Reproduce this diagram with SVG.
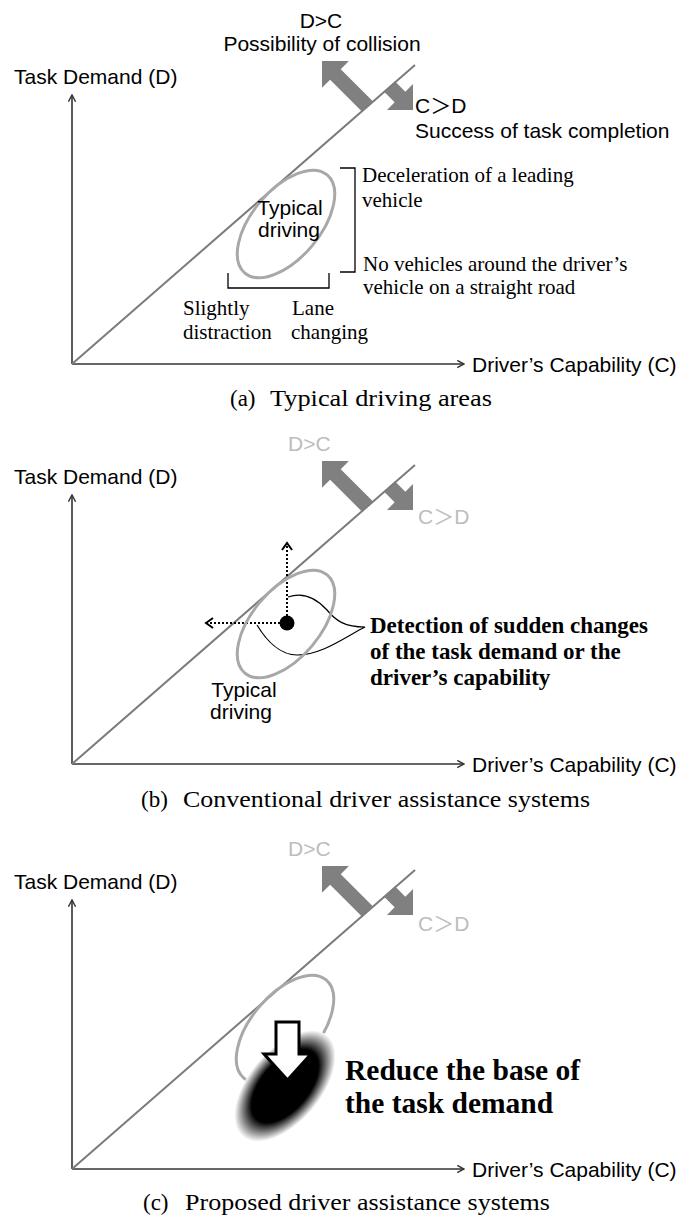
<svg xmlns="http://www.w3.org/2000/svg" width="680" height="1219" viewBox="0 0 680 1219">
<style>
  text { fill: #000; }
  .sans { font-family: "Liberation Sans", Arial, sans-serif; font-size: 21px; }
  .cjk { font-family: "Liberation Sans", "Noto Sans CJK JP", sans-serif; font-size: 21px; }
  .serif { font-family: "Liberation Serif", "Times New Roman", serif; font-size: 21px; }
  .cap { font-family: "Liberation Serif", "Times New Roman", serif; font-size: 23px; }
  .bold { font-family: "Liberation Serif", "Times New Roman", serif; font-weight: bold; }
  .faint { fill: #bdbdbd; }
  .axis { fill: none; stroke: #333; stroke-width: 1.6; marker-end: url(#chev); }
  .diag { fill: none; stroke: #7b7b7b; stroke-width: 2; }
  .zone { fill: none; stroke: #a8a8a8; stroke-width: 3; }
  .big { fill: #808080; }
  .brk { fill: none; stroke: #000; stroke-width: 1.3; }
  .dotted { fill: none; stroke: #000; stroke-width: 2; stroke-dasharray: 2 2; marker-end: url(#dchev); }
  .callout { fill: none; stroke: #000; stroke-width: 1.2; }
</style>
<defs>
  <marker id="chev" viewBox="0 0 10 10" refX="9" refY="5" markerWidth="9" markerHeight="9" markerUnits="userSpaceOnUse" orient="auto">
    <path d="M1.5,1 L9,5 L1.5,9" fill="none" stroke="#333" stroke-width="1.6"/>
  </marker>
  <marker id="dchev" viewBox="0 0 12 12" refX="10" refY="6" markerWidth="12" markerHeight="12" markerUnits="userSpaceOnUse" orient="auto">
    <path d="M3,1 L10,6 L3,11" fill="none" stroke="#000" stroke-width="2"/>
  </marker>
  <radialGradient id="fade">
    <stop offset="0.66" stop-color="#000"/>
    <stop offset="1" stop-color="#fff"/>
  </radialGradient>
  <!-- long arrow pointing up-left (D>C side), tip at origin -->
  <polygon id="arrow-dc" class="big" points="0,0 19,-19 19,-7.5 64,-7.5 64,7.5 19,7.5 19,19"/>
  <!-- short arrow pointing down-right (C>D side), tip at origin -->
  <polygon id="arrow-cd" class="big" points="0,0 18.4,-18.4 18.4,-7.5 33,-7.5 33,7.5 18.4,7.5 18.4,18.4"/>
</defs>

<rect width="680" height="1219" fill="#fff"/>

<!-- ===== (a) Typical driving areas ===== -->
<g id="panel-a">
  <g id="a-arrows">
    <use href="#arrow-dc" transform="translate(322,61) rotate(45)"/>
    <use href="#arrow-cd" transform="translate(413,110) rotate(-135)"/>
  </g>
  <g id="a-connectors">
    <path class="axis" d="M72,364 V95"/>
    <path class="axis" d="M72,364 H464"/>
    <path class="diag" d="M72,364 L415,65"/>
    <path class="brk" d="M340,168 H355 V272 H340"/>
    <path class="brk" d="M228,273 V288 H329 V273"/>
  </g>
  <g id="a-zone">
    <ellipse class="zone" cx="286" cy="224" rx="64" ry="34" transform="rotate(-50 286 224)"/>
    <text class="sans" x="290" y="215" text-anchor="middle">Typical</text>
    <text class="sans" x="289" y="237" text-anchor="middle">driving</text>
  </g>
  <g id="a-labels">
    <text class="sans" x="321" y="28" text-anchor="middle">D&gt;C</text>
    <text class="sans" x="322" y="51" text-anchor="middle">Possibility of collision</text>
    <text class="sans" x="14" y="84">Task Demand (D)</text>
    <text class="cjk" x="415" y="113">C＞D</text>
    <text class="sans" x="415" y="138">Success of task completion</text>
    <text class="sans" x="472" y="372">Driver’s Capability (C)</text>
    <text class="serif" x="362" y="182">Deceleration of a leading</text>
    <text class="serif" x="362" y="207">vehicle</text>
    <text class="serif" x="363" y="271">No vehicles around the driver’s</text>
    <text class="serif" x="363" y="294">vehicle on a straight road</text>
    <text class="serif" x="183" y="315">Slightly</text>
    <text class="serif" x="183" y="339">distraction</text>
    <text class="serif" x="292" y="315">Lane</text>
    <text class="serif" x="291" y="339">changing</text>
    <text class="cap" x="230" y="406">(a)</text>
    <text class="cap" x="270" y="406" textLength="222" lengthAdjust="spacingAndGlyphs">Typical driving areas</text>
  </g>
</g>

<!-- ===== (b) Conventional driver assistance systems ===== -->
<g id="panel-b">
  <g id="b-arrows">
    <use href="#arrow-dc" transform="translate(322,461) rotate(45)"/>
    <use href="#arrow-cd" transform="translate(413,510) rotate(-135)"/>
  </g>
  <g id="b-connectors">
    <path class="axis" d="M72,764 V495"/>
    <path class="axis" d="M72,764 H464"/>
    <path class="diag" d="M72,764 L415,465"/>
    <path class="dotted" d="M287,616 V543"/>
    <path class="dotted" d="M280,623 H206"/>
    <path class="callout" d="M288,597 C305,591 318,600 327,610 C336,621 345,627 365,627 C345,637 322,655 297,655 C280,655 266,640 257,625"/>
  </g>
  <g id="b-zone">
    <ellipse class="zone" cx="286" cy="624" rx="64" ry="34" transform="rotate(-50 286 624)"/>
    <circle cx="287" cy="623" r="7.5" fill="#000"/>
  </g>
  <g id="b-labels">
    <text class="sans faint" x="288" y="451">D&gt;C</text>
    <text class="cjk faint" x="418" y="524">C＞D</text>
    <text class="sans" x="14" y="484">Task Demand (D)</text>
    <text class="sans" x="472" y="772">Driver’s Capability (C)</text>
    <text class="sans" x="244" y="697" text-anchor="middle">Typical</text>
    <text class="sans" x="241" y="719" text-anchor="middle">driving</text>
    <text class="bold" x="370" y="633" font-size="23">Detection of sudden changes</text>
    <text class="bold" x="370" y="659" font-size="23">of the task demand or the</text>
    <text class="bold" x="370" y="685" font-size="23">driver’s capability</text>
    <text class="cap" x="141" y="807">(b)</text>
    <text class="cap" x="183" y="807" textLength="407" lengthAdjust="spacingAndGlyphs">Conventional driver assistance systems</text>
  </g>
</g>

<!-- ===== (c) Proposed driver assistance systems ===== -->
<g id="panel-c">
  <g id="c-arrows">
    <use href="#arrow-dc" transform="translate(322,866) rotate(45)"/>
    <use href="#arrow-cd" transform="translate(413,915) rotate(-135)"/>
  </g>
  <g id="c-connectors">
    <path class="axis" d="M72,1169 V900"/>
    <path class="axis" d="M72,1169 H464"/>
    <path class="diag" d="M72,1169 L415,870"/>
  </g>
  <g id="c-zone">
    <ellipse class="zone" cx="285" cy="1029" rx="64" ry="34" transform="rotate(-50 285 1029)"/>
    <ellipse cx="285" cy="1086" rx="66" ry="36" fill="url(#fade)" transform="rotate(-50 285 1086)"/>
    <polygon points="276,1022 299,1022 299,1054 311,1054 287.5,1080 264,1054 276,1054" fill="#fff" stroke="#000" stroke-width="3" stroke-linejoin="miter"/>
  </g>
  <g id="c-labels">
    <text class="sans faint" x="288" y="856">D&gt;C</text>
    <text class="cjk faint" x="418" y="931">C＞D</text>
    <text class="sans" x="14" y="889">Task Demand (D)</text>
    <text class="sans" x="472" y="1177">Driver’s Capability (C)</text>
    <text class="bold" x="345" y="1080" font-size="29.5">Reduce the base of</text>
    <text class="bold" x="345" y="1113" font-size="29.5">the task demand</text>
    <text class="cap" x="143" y="1210">(c)</text>
    <text class="cap" x="185" y="1210" textLength="365" lengthAdjust="spacingAndGlyphs">Proposed driver assistance systems</text>
  </g>
</g>
</svg>
